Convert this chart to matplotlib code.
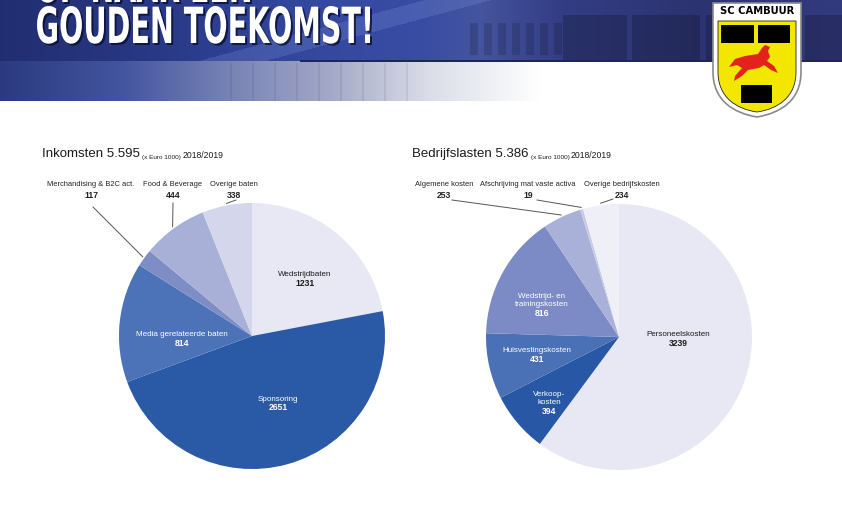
import numpy as np
import matplotlib
matplotlib.use("Agg")
import matplotlib.pyplot as plt
from matplotlib.path import Path
from matplotlib.patches import PathPatch, Polygon, Rectangle
from matplotlib.textpath import TextPath
from matplotlib.font_manager import FontProperties
from matplotlib.transforms import Affine2D

# data (x Euro 1000), 2018/2019
inkomsten_labels = ["Wedstrijdbaten", "Sponsoring", "Media gerelateerde baten",
                    "Merchandising & B2C act.", "Food & Beverage", "Overige baten"]
inkomsten_values = [1231, 2651, 814, 117, 444, 338]
inkomsten_colors = ["#e7e8f3", "#2a59a5", "#4c72b7", "#7e8dc6", "#a8b0d7", "#d4d7eb"]

lasten_labels = ["Personeelskosten", "Verkoop-\nkosten", "Huisvestingskosten",
                 "Wedstrijd- en\ntrainingskosten", "Algemene kosten",
                 "Afschrijving mat vaste activa", "Overige bedrijfskosten"]
lasten_values = [3239, 394, 431, 816, 253, 19, 234]
lasten_colors = ["#e7e8f3", "#2858a5", "#4a71b6", "#7c8bc5", "#a9b1d8", "#c6cbe5", "#efeff7"]

FONT = "Liberation Sans"

fig = plt.figure(figsize=(8.42, 5.25), dpi=100)
ax = fig.add_axes([0, 0, 1, 1])

# ---- header banner (background picture) ----
W, H = 842, 101
xs = np.arange(W)
def ramp(px, cols):
    cols = np.array(cols)
    return np.stack([np.interp(xs, px, cols[:, i]) for i in range(3)], axis=1)

top = ramp([0, 150, 300, 420, 480, 560, 700, 842],
           [(0.13, 0.18, 0.44), (0.16, 0.22, 0.52), (0.20, 0.28, 0.62), (0.22, 0.30, 0.64),
            (0.27, 0.33, 0.62), (0.20, 0.24, 0.52), (0.17, 0.20, 0.44), (0.20, 0.23, 0.50)])
bottom = ramp([0, 120, 220, 330, 430, 540],
              [(0.17, 0.23, 0.50), (0.26, 0.33, 0.62), (0.45, 0.50, 0.70),
               (0.64, 0.66, 0.78), (0.86, 0.87, 0.91), (1, 1, 1)])
img = np.ones((H, W, 3))
img[:61] = top[None, :, :]
img[61:] = bottom[None, :, :]
yy, xx = np.mgrid[0:H, 0:W]
# diagonal light band across the building
beam = np.abs((yy - 61) + (xx - 230) * 0.27) < 9
beam &= (yy < 61) & (xx > 200) & (xx < 560)
img[beam] = img[beam] * 0.75 + 0.25 * np.array([0.50, 0.58, 0.85])
# building windows on the right
for x0, x1 in [(563, 627), (632, 700), (706, 712), (805, 842)]:
    m = (xx >= x0) & (xx < x1) & (yy > 14) & (yy < 60)
    img[m] *= 0.8
for x0 in range(470, 560, 14):
    m = (xx >= x0) & (xx < x0 + 8) & (yy > 22) & (yy < 55)
    img[m] *= 0.85
for x0 in range(230, 420, 22):
    m = (xx >= x0) & (xx < x0 + 2) & (yy > 62)
    img[m] *= 0.93
img[60:62, 300:] = np.array([0.12, 0.15, 0.35])
img = np.clip(img, 0, 1)
ax.imshow(img, extent=(0, W, H, 0), interpolation="bilinear", zorder=0)

# headline, condensed by scaling a text path
def headline(text, x0, x1, base, cap, shadow=True):
    tp = TextPath((0, 0), text, size=1, prop=FontProperties(family="DejaVu Sans", weight="bold"))
    ext = tp.get_extents()
    tr = Affine2D().translate(-ext.x0, 0).scale((x1 - x0) / ext.width, -cap / ext.y1).translate(x0, base)
    path = tr.transform_path(tp)
    if shadow:
        sh = Affine2D().translate(2, 2).transform_path(path)
        ax.add_patch(PathPatch(sh, fc="#0a0f30", ec="none", alpha=0.8, zorder=2))
    ax.add_patch(PathPatch(path, fc="white", ec="none", zorder=3))

headline("GOUDEN TOEKOMST!", 37, 370, 43, 37)
headline("OP NAAR EEN", 37, 250, 2, 37)

# club logo
sh = Path([(713, 3), (801, 3), (801, 72), (801, 100), (781, 113), (757, 117),
           (733, 113), (713, 100), (713, 72), (713, 3)],
          [Path.MOVETO, Path.LINETO, Path.LINETO, Path.CURVE4, Path.CURVE4, Path.CURVE4,
           Path.CURVE4, Path.CURVE4, Path.CURVE4, Path.CLOSEPOLY])
ax.add_patch(PathPatch(sh, fc="white", ec="#8a8a8a", lw=1.2, zorder=4))
yl = Path([(718, 21), (796, 21), (796, 72), (796, 97), (778, 109), (757, 112),
           (736, 109), (718, 97), (718, 72), (718, 21)],
          [Path.MOVETO, Path.LINETO, Path.LINETO, Path.CURVE4, Path.CURVE4, Path.CURVE4,
           Path.CURVE4, Path.CURVE4, Path.CURVE4, Path.CLOSEPOLY])
ax.add_patch(PathPatch(yl, fc="#f3e600", ec="#222222", lw=0.6, zorder=5))
for x0, y0, w, h in [(721, 25, 33, 18), (758, 25, 32, 18), (741, 85, 31, 18)]:
    ax.add_patch(Rectangle((x0, y0), w, h, fc="black", ec="none", zorder=6))
deer = [(745, 56), (758, 54), (762, 48), (765, 45), (770, 47), (768, 51), (770, 57),
        (767, 61), (774, 66), (778, 73), (771, 70), (764, 65), (759, 68), (748, 70),
        (742, 76), (734, 81), (735, 76), (742, 68), (737, 65), (729, 67), (735, 59)]
ax.add_patch(Polygon(deer, closed=True, fc="#e3231b", ec="none", zorder=6))
ax.text(757, 11.5, "SC CAMBUUR", ha="center", va="center", fontsize=7.2,
        fontweight="bold", family="DejaVu Sans", color="black", zorder=7)

# ---- pies ----
R = 133
def pie(center, values, colors):
    ax.pie(values, colors=colors, startangle=-90, counterclock=True, center=center,
           radius=R, wedgeprops=dict(linewidth=0), frame=True)

def mid_edge(center, values, i, r):
    tot = sum(values)
    a = 2 * np.pi * (sum(values[:i]) + values[i] / 2) / tot
    return center[0] + r * np.sin(a), center[1] - r * np.cos(a)

def inside(x, vy, name, value, color):
    ax.text(x, vy, str(value), ha="center", va="center", fontsize=6.2, family=FONT,
            fontweight="bold", color=color, zorder=10)
    ax.text(x, vy - 5, name, ha="center", va="bottom", fontsize=5.8, family=FONT,
            color=color, linespacing=1.15, zorder=10)

def outside(center, values, i, x, name, end):
    ax.text(x, 184, name, ha="center", va="center", fontsize=5.4, family=FONT, color="#222222")
    ax.text(x, 195, str(values[i]), ha="center", va="center", fontsize=6.2, family=FONT,
            fontweight="bold", color="#222222")
    ex, ey = mid_edge(center, values, i, R + 2)
    ax.plot([end[0], ex], [end[1], ey], color="#555555", lw=0.7)

def title(x, y, main):
    t = ax.text(x, y, main, ha="left", va="baseline", fontsize=9.5, family=FONT, color="#1a1a1a")
    t2 = ax.annotate("(x Euro 1000)", xy=(1, 0), xycoords=t, xytext=(1.5, 0),
                     textcoords="offset points", ha="left", va="bottom", fontsize=4.6,
                     family=FONT, color="#1a1a1a")
    ax.annotate("2018/2019", xy=(1, 0), xycoords=t2, xytext=(1, 0),
                textcoords="offset points", ha="left", va="bottom", fontsize=6.2,
                family=FONT, color="#1a1a1a")

def total(values):
    return f"{sum(values):,}".replace(",", ".")

c1 = (252, 336)
pie(c1, inkomsten_values, inkomsten_colors)
title(42, 157, "Inkomsten " + total(inkomsten_values))
inside(305, 283, inkomsten_labels[0], inkomsten_values[0], "#1a1a1a")
inside(278, 408, inkomsten_labels[1], inkomsten_values[1], "white")
inside(182, 343, inkomsten_labels[2], inkomsten_values[2], "white")
outside(c1, inkomsten_values, 3, 91, inkomsten_labels[3], (93, 207))
outside(c1, inkomsten_values, 4, 173, inkomsten_labels[4], (173, 203))
outside(c1, inkomsten_values, 5, 234, inkomsten_labels[5], (236, 200))

c2 = (619, 337)
pie(c2, lasten_values, lasten_colors)
title(412, 157, "Bedrijfslasten " + total(lasten_values))
inside(678, 343, lasten_labels[0], lasten_values[0], "#1a1a1a")
inside(549, 411, lasten_labels[1], lasten_values[1], "white")
inside(537, 359, lasten_labels[2], lasten_values[2], "white")
inside(542, 313, lasten_labels[3], lasten_values[3], "white")
outside(c2, lasten_values, 4, 444, lasten_labels[4], (452, 200))
outside(c2, lasten_values, 5, 528, lasten_labels[5], (537, 200))
outside(c2, lasten_values, 6, 622, lasten_labels[6], (613, 199))

ax.set_xlim(0, 842)
ax.set_ylim(525, 0)
ax.set_aspect("auto")
ax.axis("off")

fig.savefig("out.png", dpi=100, facecolor="white")
